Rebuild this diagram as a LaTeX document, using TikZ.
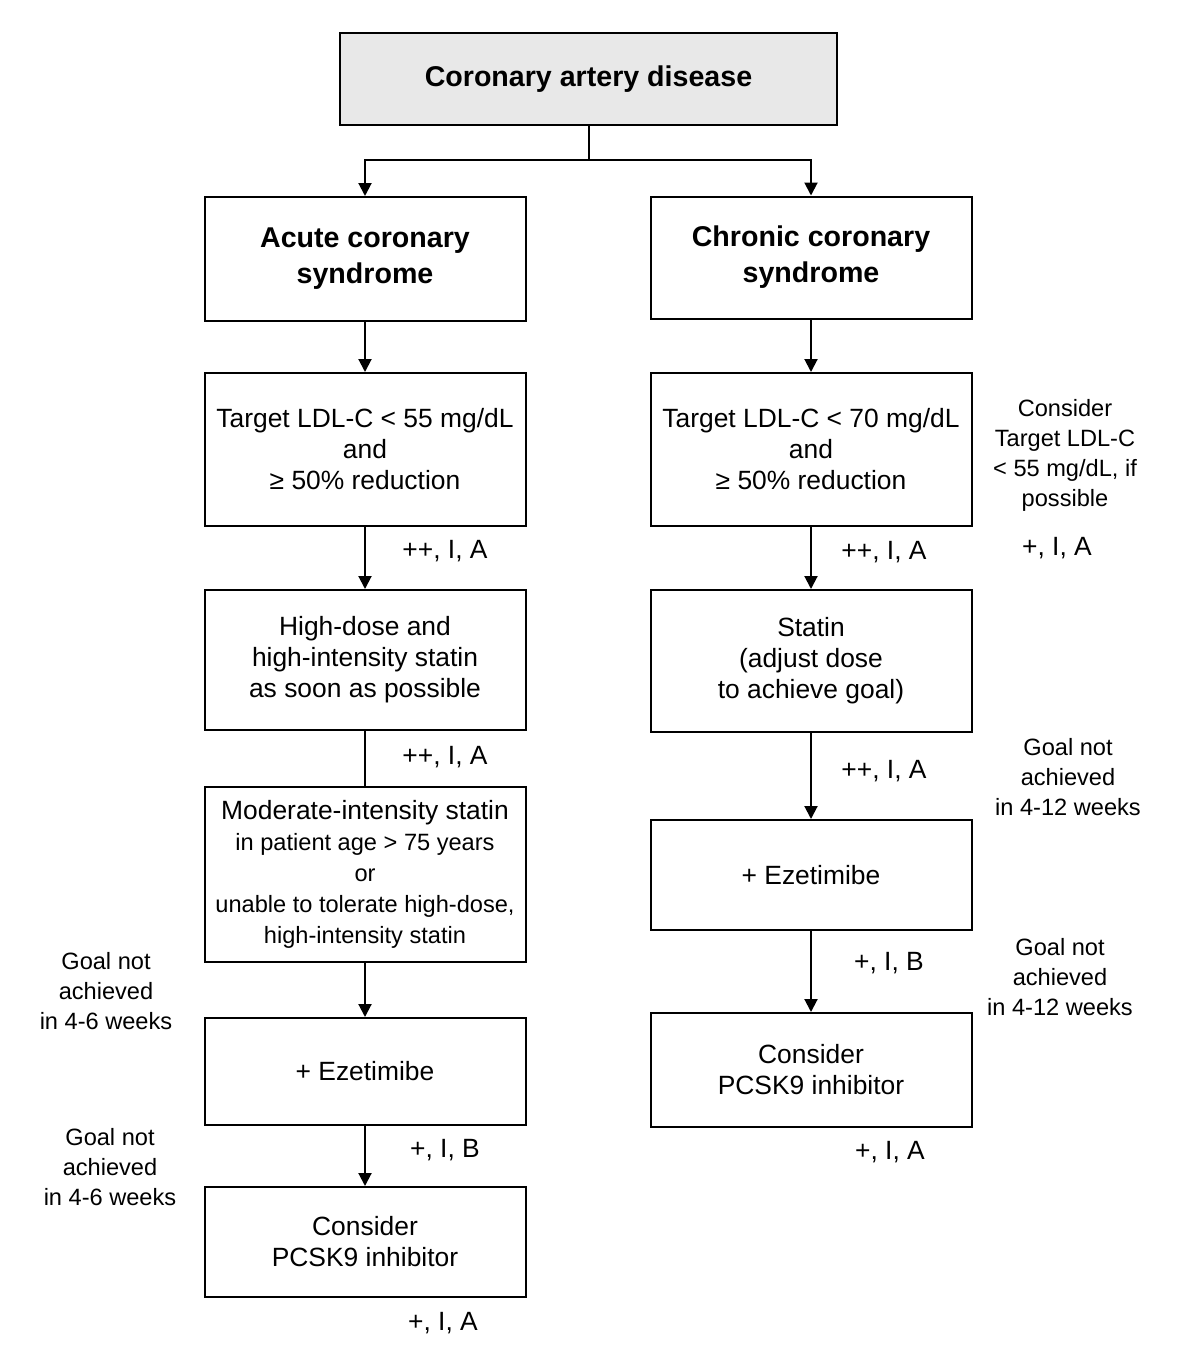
\documentclass[tikz,border=0pt]{standalone}
\usepackage{fontspec}
\setmainfont{Liberation Sans}
\usepackage{tikz}
\usetikzlibrary{arrows.meta,positioning}
\definecolor{headgray}{RGB}{232,232,232}

\begin{document}
\begin{tikzpicture}[
  x=0.5pt,y=-0.5pt,
  box/.style={draw,line width=1pt,align=center,inner sep=0pt,
    minimum width=160.5pt,font=\fontsize{13.2}{15.5}\selectfont},
  head/.style={box,fill=headgray,minimum width=248.5pt,minimum height=46pt,
    font=\fontsize{14.3}{16}\selectfont\bfseries},
  title/.style={box,font=\fontsize{14.3}{18}\selectfont\bfseries},
  note/.style={align=center,inner sep=0pt,font=\fontsize{13.2}{15.5}\selectfont},
  small/.style={align=center,inner sep=0pt,font=\fontsize{11.8}{15}\selectfont},
  arr/.style={line width=1pt,-{Triangle[length=6.5pt,width=6.5pt]}},
  line/.style={line width=1pt}
]
\useasboundingbox (0,0) rectangle (1179,1361);

\node[head] (cad) at (588.5,79) {Coronary artery disease};
\coordinate (split) at (588.5,160);

% acute side
\node[title,minimum height=62pt] (acs) at (365,259) {Acute coronary\\syndrome};
\node[box,minimum height=76.5pt] (ltarget) at (365,449.5) {Target LDL-C < 55 mg/dL\\and\\≥ 50\% reduction};
\node[box,minimum height=70pt] (lhigh) at (365,660) {High-dose and\\high-intensity statin\\as soon as possible};
\node[box,minimum height=87.5pt] (lmod) at (365,874.5) {Moderate-intensity statin\\
  {\fontsize{11.8}{15}\selectfont in patient age > 75 years}\\
  {\fontsize{11.8}{15}\selectfont or}\\
  {\fontsize{11.8}{15}\selectfont unable to tolerate high-dose,}\\
  {\fontsize{11.8}{15}\selectfont high-intensity statin}};
\node[box,minimum height=53.5pt] (leze) at (365,1071.5) {+ Ezetimibe};
\node[box,minimum height=55pt] (lpcsk) at (365,1242) {Consider\\PCSK9 inhibitor};

% chronic side
\node[title,minimum height=61pt] (ccs) at (811,257.5) {Chronic coronary\\syndrome};
\node[box,minimum height=76.5pt] (rtarget) at (811,449.5) {Target LDL-C < 70 mg/dL\\and\\≥ 50\% reduction};
\node[box,minimum height=71pt] (rstatin) at (811,661) {Statin\\(adjust dose\\to achieve goal)};
\node[box,minimum height=55pt] (reze) at (811,875) {+ Ezetimibe};
\node[box,minimum height=57pt] (rpcsk) at (811,1070) {Consider\\PCSK9 inhibitor};

% connectors
\draw[line] (cad) -- (split);
\draw[arr] (split) -| (acs);
\draw[arr] (split) -| (ccs);
\draw[arr] (acs) -- (ltarget);
\draw[arr] (ltarget) -- (lhigh);
\draw[line] (lhigh) -- (lmod);
\draw[arr] (lmod) -- (leze);
\draw[arr] (leze) -- (lpcsk);
\draw[arr] (ccs) -- (rtarget);
\draw[arr] (rtarget) -- (rstatin);
\draw[arr] (rstatin) -- (reze);
\draw[arr] (reze) -- (rpcsk);

% evidence labels
\node[note] (ev1) at (445,551) {++, I, A};
\node[note] (ev2) at (445,757) {++, I, A};
\node[note] (ev3) at (445,1150) {+, I, B};
\node[note] (ev4) at (443,1323) {+, I, A};
\node[note] (ev5) at (884,552) {++, I, A};
\node[note] (ev6) at (884,771) {++, I, A};
\node[note] (ev7) at (889,963) {+, I, B};
\node[note] (ev8) at (890,1152) {+, I, A};
\node[note] (ev9) at (1057,548) {+, I, A};

% side notes
\node[small] (consider) at (1065,455) {Consider\\Target LDL-C\\< 55 mg/dL, if\\possible};
\node[small] (goalr1) at (1068,777) {Goal not\\achieved\\in 4-12 weeks};
\node[small] (goalr2) at (1060,977) {Goal not\\achieved\\in 4-12 weeks};
\node[small] (goall1) at (106,991) {Goal not\\achieved\\in 4-6 weeks};
\node[small] (goall2) at (110,1167) {Goal not\\achieved\\in 4-6 weeks};
\end{tikzpicture}
\end{document}
